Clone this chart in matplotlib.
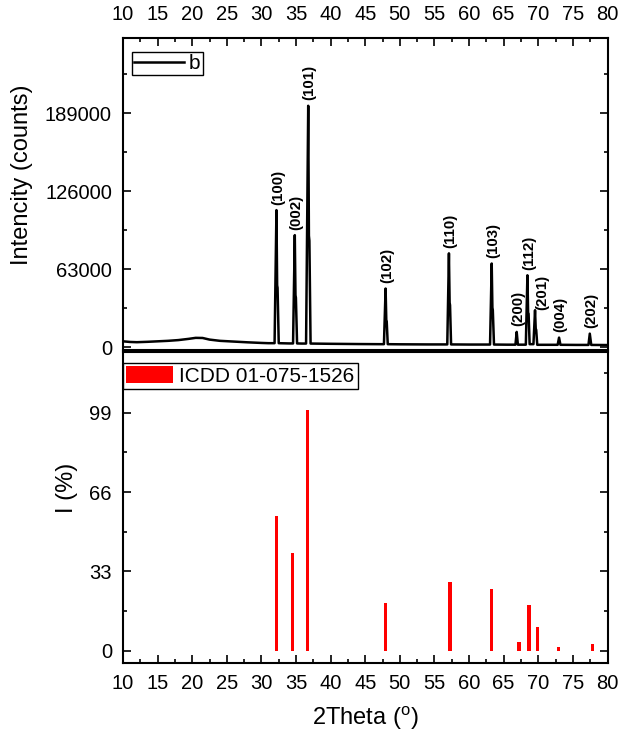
import matplotlib
matplotlib.use('Agg')
import matplotlib.pyplot as plt
from matplotlib.ticker import MultipleLocator
from matplotlib.patches import Patch

plt.rcParams['font.family'] = ['Liberation Sans', 'DejaVu Sans']
plt.rcParams['mathtext.fontset'] = 'custom'
plt.rcParams['mathtext.rm'] = 'Liberation Sans'

# measured pattern (2theta, counts)
two_theta = [10.0, 11.0, 12.0, 13.5, 15.0, 16.5, 18.0, 19.5, 20.5, 21.5, 22.5, 24.0, 26.0, 28.0, 30.0, 31.0,
             31.9, 32.17, 32.27, 32.33, 32.5,
             34.0,
             34.57, 34.82, 34.92, 34.98, 35.15,
             35.8,
             36.45, 36.76, 36.86, 36.93, 37.1,
             40.0, 44.0, 47.0,
             47.7, 47.94, 48.04, 48.1, 48.25,
             50.0, 54.0,
             56.85, 57.09, 57.19, 57.25, 57.4,
             60.0,
             63.03, 63.27, 63.37, 63.43, 63.6,
             65.5,
             66.7, 66.88, 67.05,
             68.2, 68.43, 68.53, 68.6, 68.75,
             69.3, 69.53, 69.63, 69.7, 69.85,
             71.5,
             72.8, 73.0, 73.2,
             75.5,
             77.25, 77.44, 77.65,
             80.0]
counts = [4800, 4300, 4100, 4400, 4800, 5200, 5800, 6800, 7600, 7500, 6200, 5200, 4600, 4000, 3500, 3300,
          3300, 110700, 50000, 48000, 3300,
          3100,
          3100, 90500, 42000, 40000, 3100,
          3000,
          3000, 194900, 90000, 86000, 3000,
          2800, 2600, 2500,
          2500, 47400, 22000, 21000, 2500,
          2400, 2300,
          2300, 75800, 36000, 34000, 2300,
          2200,
          2200, 67600, 32000, 30000, 2200,
          2100,
          2100, 12400, 2100,
          2100, 58100, 28000, 27000, 2500,
          2500, 29900, 15000, 14000, 2000,
          2000,
          2000, 7800, 2000,
          1900,
          1900, 11000, 1900,
          1800]

# peak labels
hkl = ['(100)', '(002)', '(101)', '(102)', '(110)', '(103)', '(200)', '(112)', '(201)', '(004)', '(202)']
hkl_pos = [32.17, 34.82, 36.76, 47.94, 57.09, 63.27, 66.88, 68.43, 69.53, 73.0, 77.44]
hkl_int = [110700, 90500, 194900, 47400, 75800, 67600, 12400, 58100, 29900, 7800, 11000]

# reference card ICDD 01-075-1526
icdd_2theta = [32.13, 34.53, 36.61, 47.89, 57.24, 63.23, 67.22, 68.66, 69.92, 72.86, 77.83]
icdd_int = [56.2, 40.5, 100, 20.0, 28.5, 25.7, 3.6, 19.0, 9.7, 1.7, 2.8]

fig = plt.figure(figsize=(6.23, 7.35), dpi=100)
ax1 = fig.add_axes([123/623, 1-350/735, 484.5/623, 312/735])
ax2 = fig.add_axes([123/623, 1-663.3/735, 484.5/623, 311.3/735])

ax1.plot(two_theta, counts, color='black', lw=1.8, label='b')
for lab, x, y in zip(hkl, hkl_pos, hkl_int):
    dx = 1.0
    dy = 4
    if lab == '(201)':
        dx, dy = 5, 0
    ax1.annotate(lab, (x, y), xytext=(dx, dy), textcoords='offset points',
                 rotation=90, ha='center', va='bottom', fontsize=10.8, fontweight='bold')

ax2.bar(icdd_2theta, icdd_int, width=0.45, color='red', linewidth=0)

ax1.set_xlim(10, 80)
ax2.set_xlim(10, 80)
ax1.set_ylim(-2200, 249600)
ax2.set_ylim(-5.2, 124.3)

ax1.yaxis.set_major_locator(MultipleLocator(63000))
ax1.yaxis.set_minor_locator(MultipleLocator(31500))
ax2.yaxis.set_major_locator(MultipleLocator(33))
ax2.yaxis.set_minor_locator(MultipleLocator(16.5))
for ax in (ax1, ax2):
    ax.xaxis.set_major_locator(MultipleLocator(5))
    ax.xaxis.set_minor_locator(MultipleLocator(2.5))
    for s in ax.spines.values():
        s.set_linewidth(1.5)
    ax.tick_params(which='both', direction='in', width=1.2, labelsize=14.5)
    ax.tick_params(which='major', length=6)
    ax.tick_params(which='minor', length=3)

ax1.tick_params(which='both', top=True, bottom=False, labeltop=True, labelbottom=False,
                left=True, right=True)
ax1.tick_params(axis='x', pad=10)
ax1.tick_params(axis='y', pad=8)
ax2.tick_params(which='both', top=False, bottom=True, left=True, right=True)
ax2.tick_params(axis='x', pad=8)
ax2.tick_params(axis='y', pad=8)

ax1.set_ylabel('Intencity (counts)', fontsize=17)
ax1.yaxis.set_label_coords(-0.186, 0.561)
ax2.set_ylabel('I (%)', fontsize=17)
ax2.yaxis.set_label_coords(-0.093, 0.563)
ax2.set_xlabel('2Theta ($^{\\mathrm{o}}$)', fontsize=17, labelpad=8)

leg1 = ax1.legend(loc='upper left', bbox_to_anchor=(0.018, 0.956), borderaxespad=0,
                  fontsize=15, handlelength=2.4, handletextpad=0.25, borderpad=0.1,
                  fancybox=False, edgecolor='black', framealpha=1)
leg1.get_frame().set_linewidth(1)

handle = Patch(facecolor='red', edgecolor='none')
leg2 = ax2.legend([handle], ['ICDD 01-075-1526'], loc='upper left', bbox_to_anchor=(0.0, 0.965),
                  borderaxespad=0, fontsize=15, handlelength=2.26, handleheight=0.9,
                  handletextpad=0.29, borderpad=0.15, fancybox=False, edgecolor='black', framealpha=1)
leg2.get_frame().set_linewidth(1)

fig.savefig('out.png', dpi=100)
